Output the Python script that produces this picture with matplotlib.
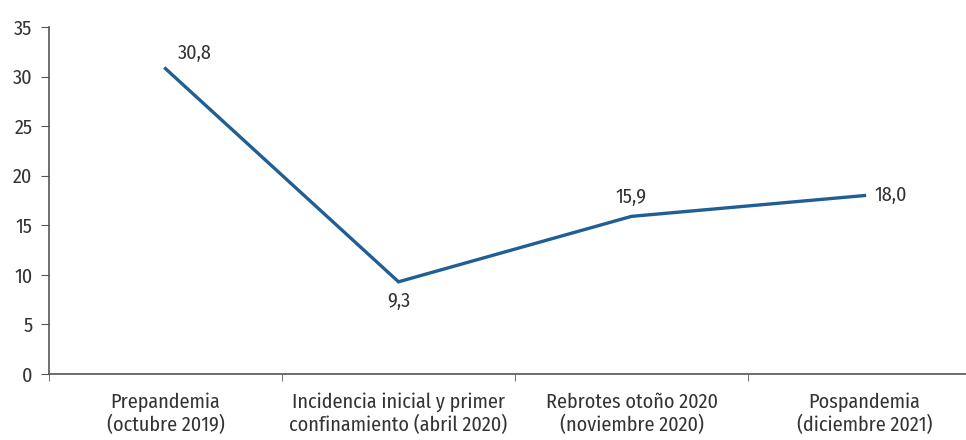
import matplotlib
matplotlib.use("Agg")
import matplotlib.pyplot as plt
from matplotlib.ticker import FixedLocator

categorias = [
    "Prepandemia\n(octubre 2019)",
    "Incidencia inicial y primer\nconfinamiento (abril 2020)",
    "Rebrotes otoño 2020\n(noviembre 2020)",
    "Pospandemia\n(diciembre 2021)",
]
valores = [30.8, 9.3, 15.9, 18.0]
yticks = [0, 5, 10, 15, 20, 25, 30, 35]

plt.rcParams["font.family"] = ["Fira Sans Condensed", "DejaVu Sans"]
plt.rcParams["font.weight"] = "normal"
gris = "#555555"
texto = "#333333"
azul = "#1f5f96"

fig = plt.figure(figsize=(9.66, 4.4), dpi=100)
ax = fig.add_axes([49 / 966, 66 / 440, 932 / 966, 347 / 440])

x = list(range(len(valores)))
ax.plot(x, valores, color=azul, lw=2.4, solid_joinstyle="miter")

# etiquetas de valores
offsets = [(21, 11), (0, -14), (0, 14), (19, 0)]
for xi, v, (dx, dy) in zip(x, valores, offsets):
    ax.annotate(f"{v:.1f}".replace(".", ","), (xi, v), xytext=(dx, dy),
                textcoords="offset points", ha="center", va="center",
                fontsize=14.5, color=texto)

ax.set_xlim(-0.5, 3.5)
ax.set_ylim(0, 35)
ax.set_yticks(yticks)
ax.set_xticks(x)
ax.set_xticklabels(categorias, linespacing=1.2)
ax.xaxis.set_minor_locator(FixedLocator([-0.5, 0.5, 1.5, 2.5]))
ax.tick_params(axis="x", which="major", length=0, pad=13, labelsize=14.5, colors=texto)
ax.tick_params(axis="x", which="minor", length=5, color=gris)
ax.tick_params(axis="y", length=6, color=gris, labelsize=14.5, labelcolor=texto, pad=6)

for s in ["top", "right"]:
    ax.spines[s].set_visible(False)
for s in ["left", "bottom"]:
    ax.spines[s].set_color(gris)
    ax.spines[s].set_linewidth(1.2)

fig.savefig("out.png", dpi=100)
